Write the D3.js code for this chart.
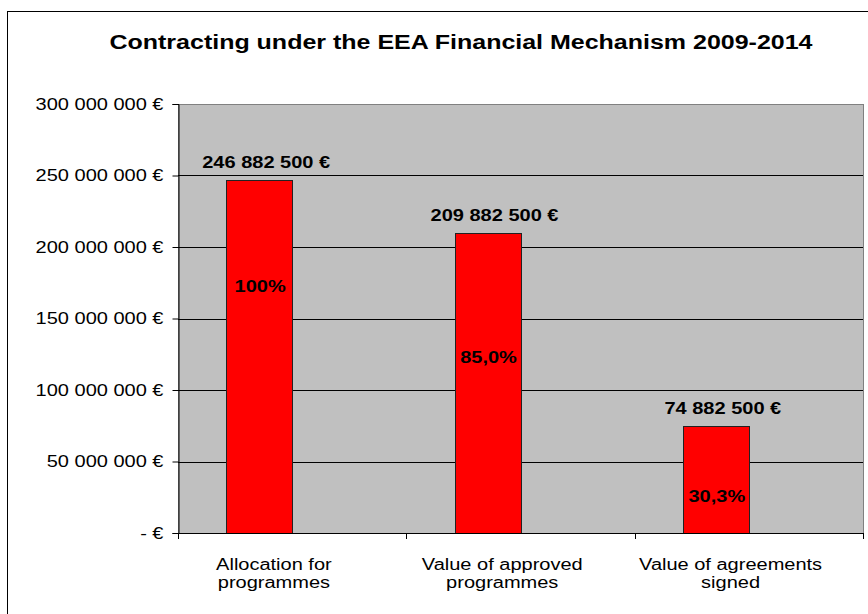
<!DOCTYPE html>
<html>
<head>
<meta charset="utf-8">
<script src="https://cdn.jsdelivr.net/npm/d3@7"></script>
<style>
  body { margin: 0; background: #fff; }
  svg { display: block; font-family: "Liberation Sans", Arial, sans-serif; }
</style>
</head>
<body>
<div id="chart"></div>
<script>
// chart data
const categories = [["Allocation for", "programmes"], ["Value of approved", "programmes"], ["Value of agreements", "signed"]];
const values = [246882500, 209882500, 74882500];
const valueLabels = ["246 882 500 €", "209 882 500 €", "74 882 500 €"];
const shareLabels = ["100%", "85,0%", "30,3%"];
// value height at which the share label sits inside each bar
const shareLabelAt = [173000000, 123000000, 26000000];
const yTicks = [0, 50000000, 100000000, 150000000, 200000000, 250000000, 300000000];

const W = 868, H = 614;
const margin = { top: 104, right: 5, bottom: 81, left: 178 };
const width = W - margin.left - margin.right;
const height = H - margin.top - margin.bottom;
// the original's lettering is wider than its height suggests
const SX = 1.25;
const place = (x, y) => `translate(${x},${y}) scale(${SX},1)`;

const svg = d3.select('#chart')
  .append('svg')
  .attr('width', W)
  .attr('height', H);

// outer chart border (runs off right and bottom edges like the original)
svg.append('rect')
  .attr('x', 7.5).attr('y', 11.5)
  .attr('width', W + 20).attr('height', H + 20)
  .attr('fill', '#fff')
  .attr('stroke', '#000')
  .attr('stroke-width', 1);

svg.append('text')
  .attr('transform', place(461, 49))
  .attr('text-anchor', 'middle')
  .style('font-size', '20px')
  .style('font-weight', 'bold')
  .text('Contracting under the EEA Financial Mechanism 2009-2014');

const g = svg.append('g')
  .attr('transform', `translate(${margin.left},${margin.top})`);

const keys = d3.range(categories.length);
const x = d3.scaleBand().domain(keys).range([0, width]).padding(0);
// two slots per category (second series empty), bar sits in the left one
const x1 = d3.scaleBand().domain([0, 1]).range([0, x.bandwidth()]).paddingOuter(0.73).paddingInner(0);
const y = d3.scaleLinear().domain([0, 300000000]).range([height, 0]);

// plot background
g.append('rect')
  .attr('x', 0.5).attr('y', 0.5)
  .attr('width', width).attr('height', height)
  .attr('fill', '#c0c0c0')
  .attr('stroke', '#808080');

// gridlines
g.selectAll('.grid')
  .data(yTicks.filter(t => t > 0 && t < 300000000))
  .enter().append('line')
  .attr('x1', 0).attr('x2', width)
  .attr('y1', d => Math.round(y(d)) + 0.5)
  .attr('y2', d => Math.round(y(d)) + 0.5)
  .attr('stroke', '#000');

// bars
g.selectAll('.bar')
  .data(values)
  .enter().append('rect')
  .attr('x', (d, i) => Math.round(x(i) + x1(0)) + 0.5)
  .attr('y', d => Math.round(y(d)) + 0.5)
  .attr('width', Math.round(x1.bandwidth()))
  .attr('height', d => Math.round(height - y(d)))
  .attr('fill', '#ff0000')
  .attr('stroke', '#222')
  .attr('stroke-width', 1);

// value labels above bars
g.selectAll('.vlabel')
  .data(values)
  .enter().append('text')
  .attr('transform', (d, i) => place(x(i) + x1(0) + x1.bandwidth() / 2 + 7, y(d) - 12))
  .attr('text-anchor', 'middle')
  .style('font-size', '16px')
  .style('font-weight', 'bold')
  .text((d, i) => valueLabels[i]);

// share labels inside bars
g.selectAll('.slabel')
  .data(shareLabelAt)
  .enter().append('text')
  .attr('transform', (d, i) => place(x(i) + x1(0) + x1.bandwidth() / 2 + 1, y(d) + 6))
  .attr('text-anchor', 'middle')
  .style('font-size', '16px')
  .style('font-weight', 'bold')
  .text((d, i) => shareLabels[i]);

// Y axis
const yAxis = g.append('g')
  .attr('transform', 'translate(0.5,0)')
  .call(d3.axisLeft(y).tickValues(yTicks).tickSize(6).tickPadding(9)
    .tickFormat(d => d === 0 ? '-  €' : d3.format(',')(d).replace(/,/g, ' ') + ' €'));
yAxis.select('.domain').attr('stroke', '#000');
yAxis.selectAll('.tick line').attr('stroke', '#000');
yAxis.selectAll('text')
  .attr('x', null)
  .attr('transform', place(-15, 0))
  .style('font-size', '16px')
  .style('font-family', '"Liberation Sans", Arial, sans-serif')
  .attr('fill', '#000');

// X axis line and ticks at category boundaries
g.append('line')
  .attr('x1', 0).attr('x2', width)
  .attr('y1', height + 0.5).attr('y2', height + 0.5)
  .attr('stroke', '#000');
g.selectAll('.xtick')
  .data(d3.range(categories.length + 1))
  .enter().append('line')
  .attr('x1', d => Math.round(d * x.step()) + 0.5)
  .attr('x2', d => Math.round(d * x.step()) + 0.5)
  .attr('y1', height).attr('y2', height + 6)
  .attr('stroke', '#000');

// category labels
const cl = g.selectAll('.clabel')
  .data(categories)
  .enter().append('text')
  .attr('text-anchor', 'middle')
  .style('font-size', '16px')
  .attr('transform', (d, i) => place(x(i) + x.bandwidth() * 0.42, height + 37));
cl.selectAll('tspan')
  .data(d => d)
  .enter().append('tspan')
  .attr('x', 0)
  .attr('dy', (d, i) => i === 0 ? 0 : 18)
  .text(d => d);
</script>
</body>
</html>
